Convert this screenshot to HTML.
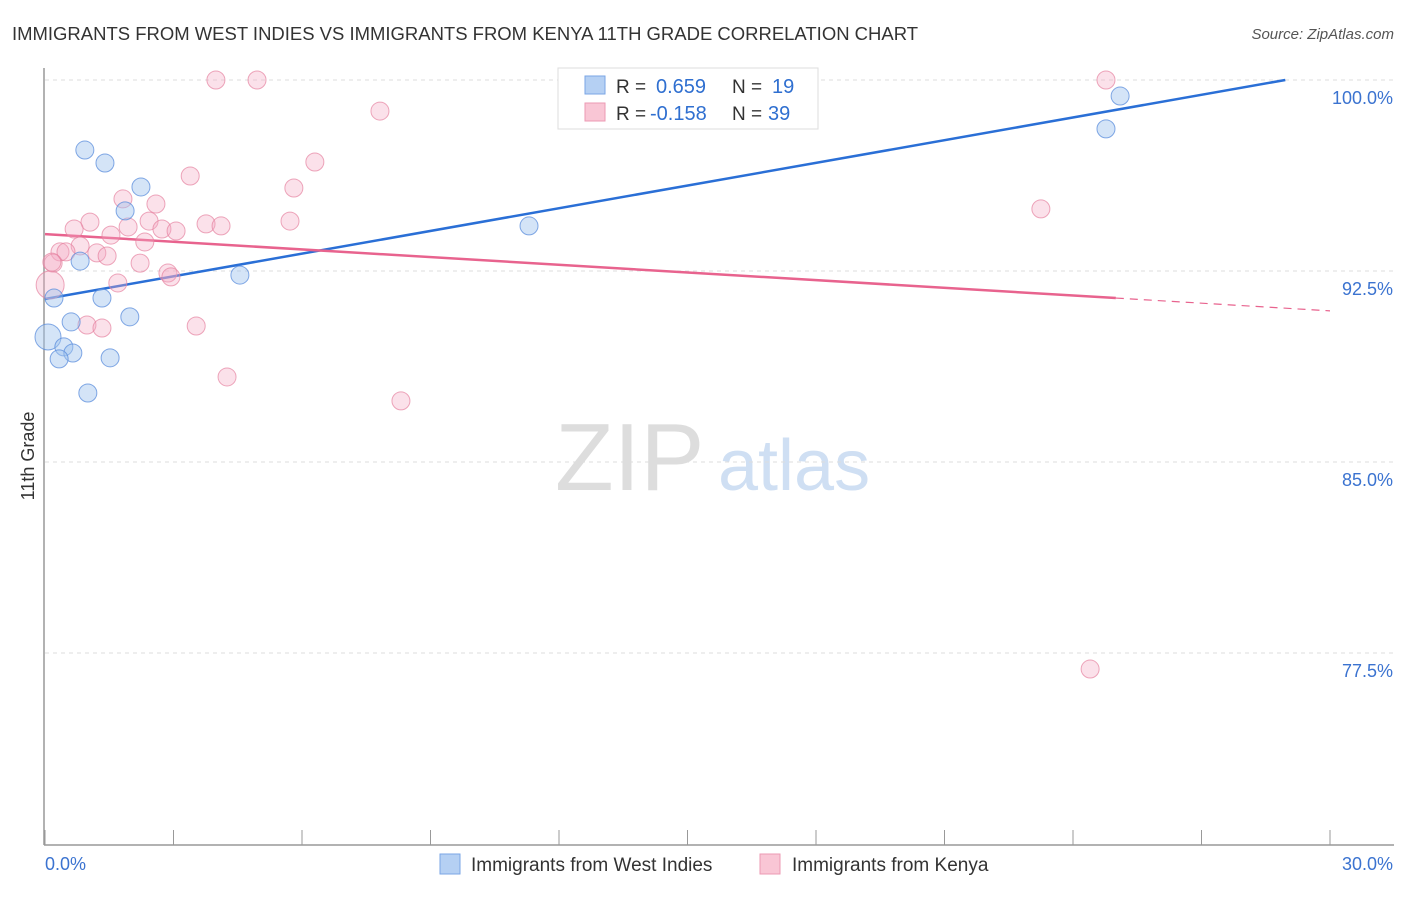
<!DOCTYPE html>
<html><head><meta charset="utf-8">
<style>
body{margin:0;background:#fff;font-family:"Liberation Sans",sans-serif;}
svg text{font-family:"Liberation Sans",sans-serif;}
</style></head>
<body>
<svg id="chart" width="1406" height="892" xmlns="http://www.w3.org/2000/svg">
<text x="12" y="40" font-size="18" fill="#333" textLength="906" lengthAdjust="spacingAndGlyphs">IMMIGRANTS FROM WEST INDIES VS IMMIGRANTS FROM KENYA 11TH GRADE CORRELATION CHART</text>
<text x="1394" y="39" font-size="15" fill="#555" text-anchor="end" font-style="italic">Source: ZipAtlas.com</text>
<g>
<text x="555" y="490" font-size="96" fill="#ddd" font-family="Liberation Serif,serif">ZIP</text>
<text x="718" y="490" font-size="72" fill="#cfdff3">atlas</text>
</g>
<g id="grid"></g>
<g id="axes"></g>
<g id="trend"></g>
<g id="points"></g>
<text transform="translate(34,456) rotate(-90)" font-size="18" fill="#333" text-anchor="middle">11th Grade</text>
<g>
<rect x="558" y="68" width="260" height="61" fill="#fff" stroke="#ddd"/>
<rect x="585" y="76" width="20" height="18" fill="#b5d0f3" stroke="#7aa6e6"/>
<rect x="585" y="103" width="20" height="18" fill="#f9c6d5" stroke="#ec9ab3"/>
<text x="616" y="93" font-size="19" fill="#333">R =</text>
<text x="656" y="93" font-size="20" fill="#2f6fd0">0.659</text>
<text x="732" y="93" font-size="19" fill="#333">N =</text>
<text x="772" y="93" font-size="20" fill="#2f6fd0">19</text>
<text x="616" y="120" font-size="19" fill="#333">R =</text>
<text x="650" y="120" font-size="20" fill="#2f6fd0">-0.158</text>
<text x="732" y="120" font-size="19" fill="#333">N =</text>
<text x="768" y="120" font-size="20" fill="#2f6fd0">39</text>
</g>
<g>
<rect x="440" y="854" width="20" height="20" fill="#b5d0f3" stroke="#7aa6e6"/>
<text x="471" y="871" font-size="19" fill="#333">Immigrants from West Indies</text>
<rect x="760" y="854" width="20" height="20" fill="#f9c6d5" stroke="#ec9ab3"/>
<text x="792" y="871" font-size="19" fill="#333">Immigrants from Kenya</text>
</g>
</svg>
<script>
const yTicks=[100,92.5,85,77.5];
const yTickLabels=["100.0%","92.5%","85.0%","77.5%"];
const xTickLabels=["0.0%","30.0%"];
const blueX=[0.93,1.40,2.24,1.87,0.82,4.55,0.21,1.33,1.98,0.61,0.07,0.44,0.65,0.33,1.52,1.00,11.30,25.10,24.77];
const blueY=[97.25,96.74,95.80,94.86,92.89,92.34,91.44,91.44,90.70,90.50,89.91,89.52,89.28,89.05,89.09,87.71,94.27,99.37,98.08];
const pinkX=[3.99,4.95,7.82,6.30,3.39,5.81,1.82,2.59,1.05,2.43,0.68,1.94,3.76,4.11,5.72,2.73,3.06,1.54,2.33,0.35,0.82,1.21,1.45,0.19,2.22,2.87,2.94,1.70,0.12,0.98,1.33,3.53,4.25,8.31,24.77,23.25,24.40,0.49,0.16];
const pinkY=[100,100,98.78,96.78,96.23,95.76,95.33,95.13,94.42,94.46,94.15,94.23,94.35,94.27,94.46,94.15,94.07,93.91,93.64,93.25,93.48,93.21,93.09,92.81,92.81,92.42,92.27,92.03,91.95,90.38,90.26,90.34,88.34,87.40,100,94.94,76.87,93.25,92.85];
const blueTrend=[91.40,0.297];
const pinkTrend=[93.95,-0.1005];
const NS="http://www.w3.org/2000/svg";
const X=v=>45+v/30*1285;
const Y=v=>80+(100-v)/7.5*191;
function mk(t,a,p){const e=document.createElementNS(NS,t);for(const k in a)e.setAttribute(k,a[k]);p.appendChild(e);return e;}
const grid=document.getElementById('grid'),axes=document.getElementById('axes'),trend=document.getElementById('trend'),pts=document.getElementById('points');
yTicks.forEach((t,i)=>{
 const l=mk('line',{x1:45,x2:1394,y1:Y(t),y2:Y(t),stroke:'#ddd','stroke-dasharray':'4,4'},grid);
 
 
 const tx=mk('text',{x:1393,y:Y(t)+24,'font-size':18,fill:'#3b73d0','text-anchor':'end'},grid);
 tx.textContent=yTickLabels[i];
 
 
});
const ax=mk('line',{x1:44,x2:44,y1:68,y2:845,stroke:'#999','stroke-width':1.5},axes);


const bx=mk('line',{x1:44,x2:1394,y1:845,y2:845,stroke:'#999','stroke-width':1.5},axes);


for(let i=0;i<=10;i++){
 const t=mk('line',{x1:X(i*3),x2:X(i*3),y1:830,y2:845,stroke:'#999'},axes);
 
 
}
const xl0=mk('text',{x:45,y:870,'font-size':18,fill:'#3b73d0'},axes);xl0.textContent=xTickLabels[0];


const xl1=mk('text',{x:1393,y:870,'font-size':18,fill:'#3b73d0','text-anchor':'end'},axes);xl1.textContent=xTickLabels[1];


const bEnd=(100-blueTrend[0])/blueTrend[1];
const bl=mk('line',{x1:X(0),y1:Y(blueTrend[0]),x2:X(bEnd),y2:Y(100),stroke:'#2a6fd6','stroke-width':2.5},trend);


const pl=mk('line',{x1:X(0),y1:Y(pinkTrend[0]),x2:X(25),y2:Y(pinkTrend[0]+25*pinkTrend[1]),stroke:'#e8638e','stroke-width':2.5},trend);


const pd=mk('line',{x1:X(25),y1:Y(pinkTrend[0]+25*pinkTrend[1]),x2:X(30),y2:Y(pinkTrend[0]+30*pinkTrend[1]),stroke:'#e8638e','stroke-width':1.2,'stroke-dasharray':'8,6'},trend);


pinkX.forEach((x,i)=>{
 const big=(i===28);
 const c=mk('circle',{cx:X(x),cy:Y(pinkY[i]),r:big?14:9,fill:'rgba(244,170,195,0.35)',stroke:'rgba(230,130,160,0.7)','stroke-width':1},pts);
 
 
});
blueX.forEach((x,i)=>{
 const big=(i===10);
 const c=mk('circle',{cx:X(x),cy:Y(blueY[i]),r:big?13:9,fill:'rgba(160,195,238,0.45)',stroke:'rgba(90,140,220,0.75)','stroke-width':1},pts);
 
 
});
</script>
</body></html>
